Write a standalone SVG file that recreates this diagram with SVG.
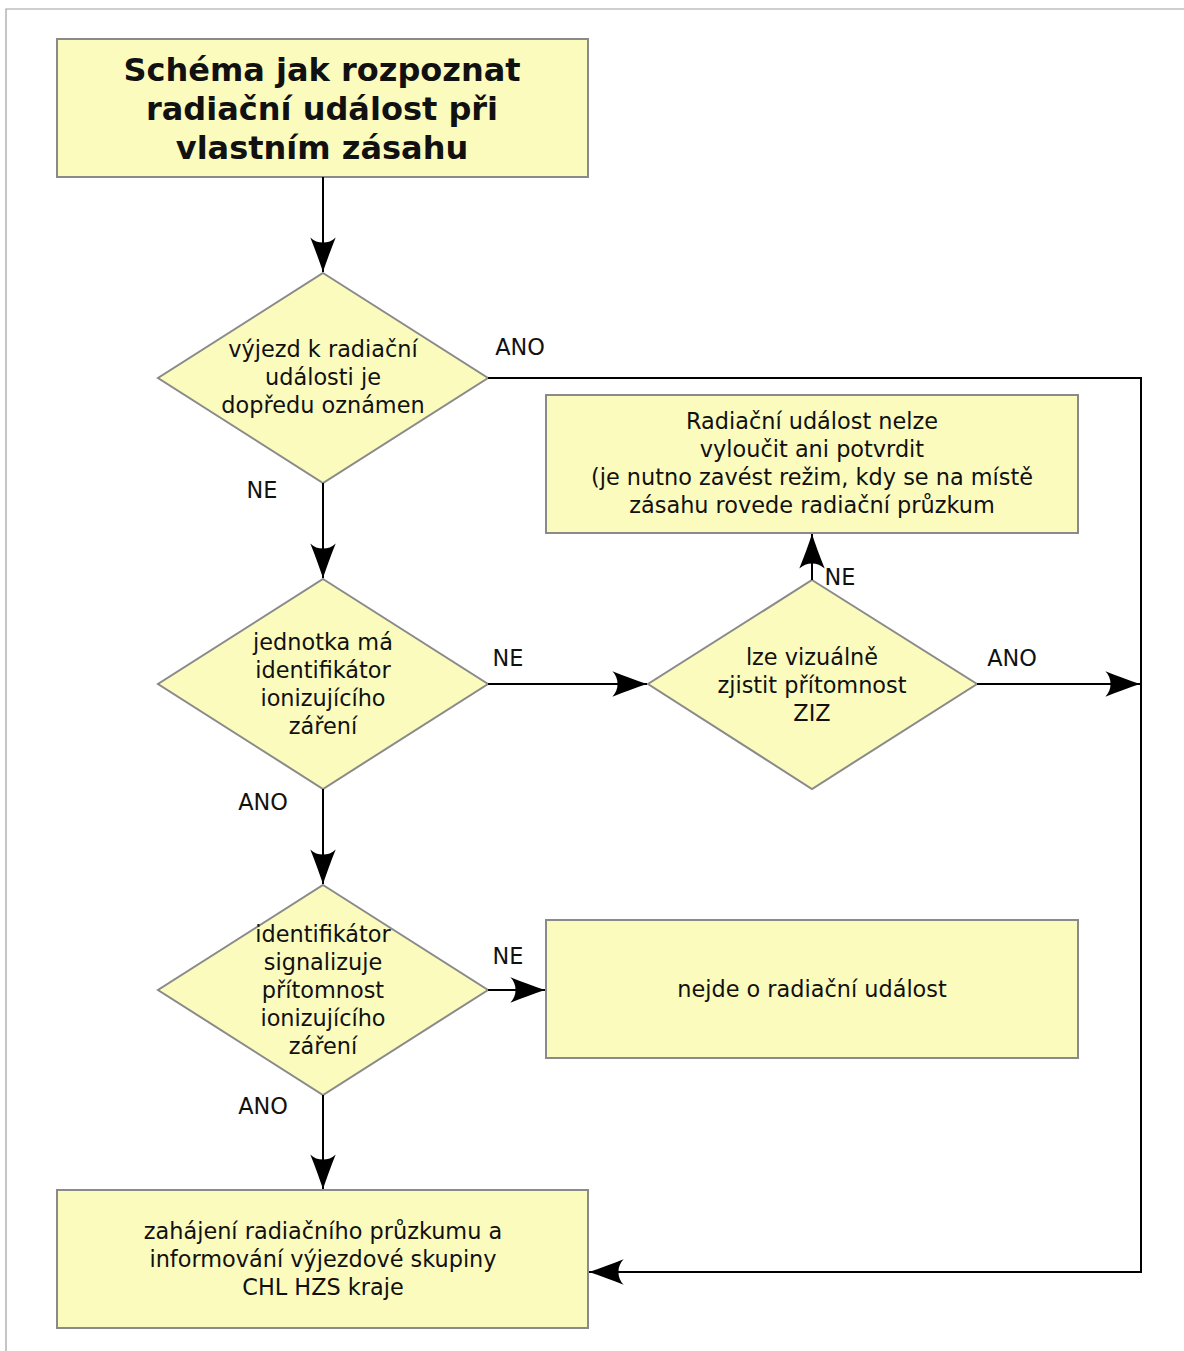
<svg xmlns="http://www.w3.org/2000/svg" width="1184" height="1351" viewBox="0 0 1184 1351">
<defs>
<marker id="arr" markerUnits="userSpaceOnUse" markerWidth="40" markerHeight="30" viewBox="-32 -13 34 26" refX="0" refY="0" orient="auto">
<path d="M0,0 C-9,-3 -20,-7 -30,-11 C-24,-5 -24,5 -30,11 C-20,7 -9,3 0,0 Z" fill="#000"/>
</marker>
</defs>
<style>
.n{fill:#fbfbbe;stroke:#8a8a8a;stroke-width:2}
.t{font-family:"DejaVu Sans",sans-serif;font-size:22.4px;fill:#111;text-anchor:middle}
.title{font-family:"DejaVu Sans",sans-serif;font-size:32px;font-weight:bold;fill:#111;text-anchor:middle}
.l{font-family:"DejaVu Sans",sans-serif;font-size:22.4px;fill:#111;text-anchor:middle}
.c{fill:none;stroke:#000;stroke-width:2}
</style>
<rect width="1184" height="1351" fill="#fff"/>
<path d="M6,1351 V9 H1184" fill="none" stroke="#a0a0a0" stroke-width="1.2"/>
<g id="title">
<rect class="n" x="57" y="39" width="531" height="138"/>
<text class="title" x="322" y="81">Schéma jak rozpoznat</text>
<text class="title" x="322" y="120">radiační událost při</text>
<text class="title" x="322" y="159">vlastním zásahu</text>
</g>
<g id="d1">
<polygon class="n" points="323,273 488,378 323,483 158,378"/>
<text class="t" x="323" y="357">výjezd k radiační</text>
<text class="t" x="323" y="385">události je</text>
<text class="t" x="323" y="413">dopředu oznámen</text>
</g>
<g id="d2">
<polygon class="n" points="323,579 488,684 323,789 158,684"/>
<text class="t" x="323" y="650">jednotka má</text>
<text class="t" x="323" y="678">identifikátor</text>
<text class="t" x="323" y="706">ionizujícího</text>
<text class="t" x="323" y="734">záření</text>
</g>
<g id="d3">
<polygon class="n" points="323,885 488,990 323,1095 158,990"/>
<text class="t" x="323" y="942">identifikátor</text>
<text class="t" x="323" y="970">signalizuje</text>
<text class="t" x="323" y="998">přítomnost</text>
<text class="t" x="323" y="1026">ionizujícího</text>
<text class="t" x="323" y="1054">záření</text>
</g>
<g id="d4">
<polygon class="n" points="812,580 977,684 812,789 648,684"/>
<text class="t" x="812" y="665">lze vizuálně</text>
<text class="t" x="812" y="693">zjistit přítomnost</text>
<text class="t" x="812" y="721">ZIZ</text>
</g>
<g id="boxR">
<rect class="n" x="546" y="395" width="532" height="138"/>
<text class="t" x="812" y="429">Radiační událost nelze</text>
<text class="t" x="812" y="457">vyloučit ani potvrdit</text>
<text class="t" x="812" y="485">(je nutno zavést režim, kdy se na místě</text>
<text class="t" x="812" y="513">zásahu rovede radiační průzkum</text>
</g>
<g id="boxN">
<rect class="n" x="546" y="920" width="532" height="138"/>
<text class="t" x="812" y="997">nejde o radiační událost</text>
</g>
<g id="boxB">
<rect class="n" x="57" y="1190" width="531" height="138"/>
<text class="t" x="323" y="1239">zahájení radiačního průzkumu a</text>
<text class="t" x="323" y="1267">informování výjezdové skupiny</text>
<text class="t" x="323" y="1295">CHL HZS kraje</text>
</g>
<g id="connectors">
<path class="c" d="M323,177 V272" marker-end="url(#arr)"/>
<path class="c" d="M488,378 H1141 V1272 H589" marker-end="url(#arr)"/>
<path class="c" d="M323,483 V578" marker-end="url(#arr)"/>
<path class="c" d="M488,684 H647" marker-end="url(#arr)"/>
<path class="c" d="M812,580 V534" marker-end="url(#arr)"/>
<path class="c" d="M977,684 H1140" marker-end="url(#arr)"/>
<path class="c" d="M323,789 V884" marker-end="url(#arr)"/>
<path class="c" d="M488,990 H545" marker-end="url(#arr)"/>
<path class="c" d="M323,1095 V1189" marker-end="url(#arr)"/>
<text class="l" x="520" y="355">ANO</text>
<text class="l" x="262" y="498">NE</text>
<text class="l" x="508" y="666">NE</text>
<text class="l" x="840" y="585">NE</text>
<text class="l" x="1012" y="666">ANO</text>
<text class="l" x="263" y="810">ANO</text>
<text class="l" x="508" y="964">NE</text>
<text class="l" x="263" y="1114">ANO</text>
</g>
</svg>
